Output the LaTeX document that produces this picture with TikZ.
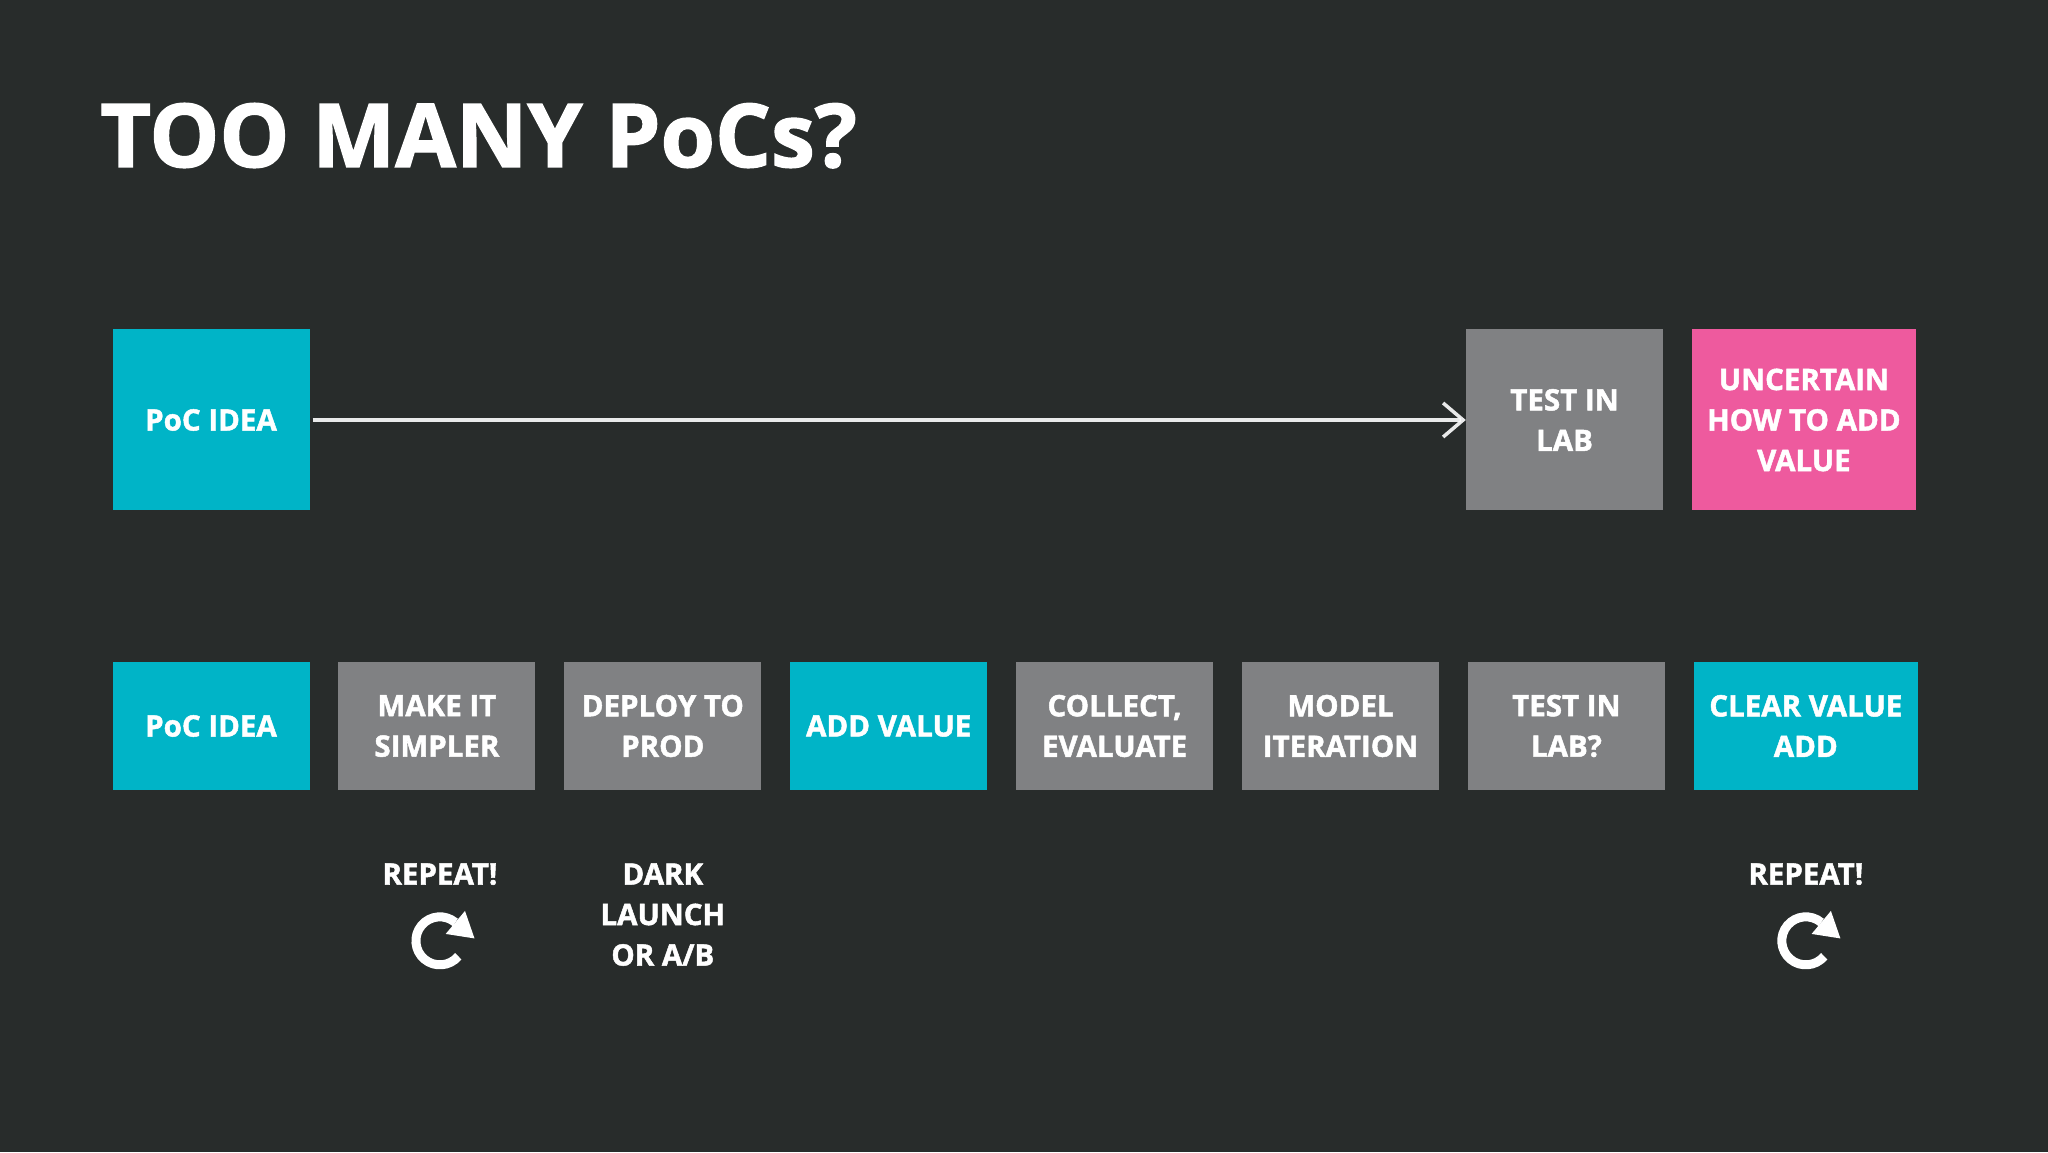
\documentclass[tikz,border=0pt]{standalone}
\usepackage{fontspec}
\setmainfont{Open Sans}[BoldFeatures={FakeBold=1.6}]
\usetikzlibrary{positioning,arrows.meta}

\definecolor{board}{RGB}{40,44,43}
\definecolor{pocteal}{RGB}{0,180,199}
\definecolor{pocgrey}{RGB}{128,129,131}
\definecolor{pocpink}{RGB}{238,90,158}

\begin{document}
\begin{tikzpicture}[
	x=1pt,y=1pt,
	font=\bfseries\fontsize{29.5}{40.5}\selectfont,
	box/.style={
	text=white,inner sep=0pt,align=center,
	minimum width=197pt,minimum height=128pt,
	},
	tallbox/.style={box,minimum height=181pt},
	teal/.style={fill=pocteal},
	grey/.style={fill=pocgrey},
	pink/.style={fill=pocpink},
	note/.style={text=white,inner sep=0pt,align=center},
	linie/.style={
	draw=white,solid,line width=3.5pt,opacity=0.9,
	-{Straight Barb[length=20pt,width=34pt,line width=3.5pt]},
	},
	redo/.style={draw=white,line width=9pt},
	node distance=28.5pt
	]

\fill[board] (0,0) rectangle (2048,1152);
\useasboundingbox (0,0) rectangle (2048,1152);

\node[anchor=base west,text=white,inner sep=0pt,font=\bfseries\fontsize{88}{100}\selectfont] (title) at (100,985) {TOO MANY PoCs?};

% first row
\node[tallbox,teal] (idea) at (211,732) {PoC IDEA};
\node[tallbox,grey] (lab) at (1564.5,732) {TEST IN\\LAB};
\node[tallbox,pink,minimum width=224pt,right=of lab] (uncertain) {UNCERTAIN\\HOW TO ADD\\VALUE};

% second row
\node[box,teal] (idea2) at (211,426) {PoC IDEA};
\node[box,grey,right=of idea2] (simpler) {MAKE IT\\SIMPLER};
\node[box,grey,right=of simpler] (deploy) {DEPLOY TO\\PROD};
\node[box,teal,right=of deploy] (addvalue) {ADD VALUE};
\node[box,grey,right=of addvalue] (collect) {COLLECT,\\EVALUATE};
\node[box,grey,right=of collect] (model) {MODEL\\ITERATION};
\node[box,grey,right=of model] (labtwo) {TEST IN\\LAB?};
\node[box,teal,minimum width=224pt,right=of labtwo] (clearvalue) {CLEAR VALUE\\ADD};

\node[note,below=73pt of simpler,xshift=3pt] (repeatone) {REPEAT!};
\node[note,below=73pt of deploy] (dark) {DARK\\LAUNCH\\OR A/B};
\node[note,below=73pt of clearvalue] (repeattwo) {REPEAT!};

\node[inner sep=0pt,below=55pt of repeatone] (cycone) {};
\node[inner sep=0pt,below=55pt of repeattwo] (cyctwo) {};

\draw [linie,shorten <=3pt] (idea) to (lab);

\foreach \c in {cycone,cyctwo}{
  \draw[redo] ([shift={(-40:24)}]\c.center) arc[start angle=-40,end angle=-310,radius=24];
  \fill[white] ([shift={(5.8,6.9)}]\c.center) -- ([shift={(25.1,29.9)}]\c.center) -- ([shift={(34.6,2.4)}]\c.center) -- cycle;
}

\end{tikzpicture}
\end{document}
